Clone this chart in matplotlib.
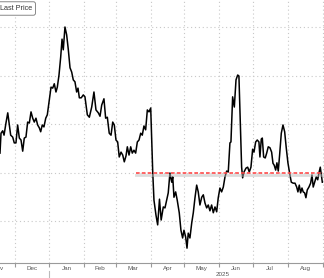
import pandas as pd
import matplotlib
matplotlib.use('Agg')
import matplotlib.pyplot as plt
import matplotlib.transforms as mtransforms

# daily closes (days counted from 2024-11-18)
start = pd.Timestamp('2024-11-18')
days = [0.0, 0.9, 2.4, 3.6, 5.3, 6.9, 8.3, 9.5, 11.3, 12.7, 14.2, 15.7, 17.2, 18.7, 20.2, 21.6, 23.1, 24.6, 26.1, 27.6,
        29.1, 30.5, 32.0, 33.5, 35.0, 36.2, 37.6, 39.1, 40.7, 42.1, 43.9, 45.4, 46.9, 48.3, 49.8, 51.0, 52.5, 54.0, 55.2, 56.3,
        57.8, 59.3, 60.8, 62.3, 63.8, 65.2, 66.7, 68.2, 69.4, 70.6, 72.3,
        74.1, 75.6, 77.7, 79.5, 81.6, 83.6, 85.4, 87.5, 89.0, 90.5, 92.5, 94.0, 95.5, 97.2, 98.8, 100.3, 101.7, 103.2, 104.7, 106.1,
        107.7, 109.2, 110.6, 112.1, 113.3, 114.8, 116.3, 117.7, 119.2, 120.7, 122.2, 123.7, 125.2, 126.6, 128.1, 129.6, 131.1, 132.6,
        134.1, 135.9, 137.0, 138.8, 140.3, 141.9, 143.4,
        145.3, 146.8, 148.3, 149.7, 151.2, 152.8, 153.7, 154.8, 156.3, 157.7, 159.5, 161.0, 162.5, 163.7, 165.2, 166.4, 167.5, 169.0,
        170.6, 172.0, 173.5, 175.0, 176.4, 177.9, 179.5, 180.9, 182.4, 183.9, 185.3, 186.8, 188.3, 189.8, 191.3, 192.8, 194.2, 195.7,
        197.2, 198.7, 200.2, 201.7, 203.1, 204.6, 205.5, 207.0, 208.5, 210.0, 211.5, 212.6,
        215.0, 215.9, 217.1, 218.9, 220.4, 221.8, 223.3, 224.8, 226.0, 227.5, 228.9, 230.4, 231.3, 232.5, 233.4, 234.6, 236.0, 237.3,
        238.7, 240.2, 241.7, 242.9, 244.0, 245.3, 246.4, 247.6, 248.8, 250.3, 251.8, 253.3, 254.7, 256.2, 257.7, 259.2, 260.9, 262.5,
        264.0, 265.1, 266.3, 267.5, 268.7, 269.8, 271.1, 272.2, 273.4, 274.9, 276.4, 277.6, 278.7, 280.0, 281.4, 282.7, 283.8, 285.0,
        285.9, 286.8]
price = [24.0, 28.1, 28.6, 27.7, 30.2, 32.3, 29.8, 27.7, 27.3, 26.1, 26.1, 29.8, 27.1, 26.7, 24.4, 27.1, 27.3, 30.4, 30.2, 32.5,
         31.2, 30.4, 31.2, 29.8, 29.2, 28.4, 29.8, 29.4, 31.2, 31.9, 35.0, 37.6, 37.4, 38.3, 36.6, 37.6, 40.1, 43.8, 47.5, 45.3,
         50.0, 48.4, 45.3, 41.6, 40.7, 39.1, 38.7, 36.6, 37.4, 35.4, 35.4,
         36.0, 35.6, 31.9, 31.4, 33.5, 36.6, 32.9, 32.3, 31.6, 33.9, 35.2, 31.2, 31.4, 28.1, 27.7, 30.4, 29.8, 26.7, 26.3, 23.2,
         24.2, 23.6, 22.2, 23.4, 25.3, 23.6, 25.3, 24.0, 24.6, 24.0, 26.3, 26.7, 28.1, 27.7, 29.6, 28.8, 32.9, 32.5,
         33.3, 20.1, 14.3, 11.2, 9.2, 14.5, 10.2,
         12.9, 12.7, 14.3, 15.8, 19.9, 18.0, 19.1, 14.9, 16.0, 14.3, 11.7, 8.1, 6.5, 8.1, 6.7, 4.4, 7.5, 6.5,
         9.6, 11.7, 14.8, 17.4, 16.0, 13.3, 14.9, 15.4, 13.7, 12.7, 13.3, 12.1, 13.3, 11.7, 12.9, 11.9, 14.8, 16.8,
         16.0, 17.0, 19.1, 20.3, 20.1, 26.1, 26.3, 35.6, 33.5, 39.1, 40.1, 39.9,
         21.1, 18.9, 20.1, 20.9, 21.1, 20.1, 21.1, 24.8, 24.2, 26.3, 26.7, 26.3, 23.2, 26.9, 27.1, 23.2, 23.0, 24.0,
         25.3, 25.1, 24.2, 21.9, 21.5, 20.5, 22.0, 20.3, 23.6, 28.1, 29.8, 28.4, 25.1, 22.0, 19.9, 18.0, 17.8, 17.8,
         17.0, 16.0, 17.4, 15.8, 16.8, 16.0, 15.8, 14.8, 16.4, 17.0, 17.8, 19.5, 17.0, 18.0, 19.1, 18.5, 19.9, 21.1,
         19.5, 18.0]
dates = start + pd.to_timedelta(days, unit='D')

# red reference level
ref_level = 20.0
ref_from = pd.Timestamp('2025-03-19')
ref_to = pd.Timestamp('2025-09-01')

months = pd.date_range('2024-11-01', '2025-09-01', freq='MS')
month_labels = ['Nov', 'Dec', 'Jan', 'Feb', 'Mar', 'Apr', 'May', 'Jun', 'Jul', 'Aug']
grid_levels = [10, 20, 30, 40, 50]

plt.rcParams['font.family'] = ['Liberation Sans', 'DejaVu Sans']

fig = plt.figure(figsize=(3.24, 2.78), dpi=100)
ax = fig.add_axes([0, 15 / 278, 1, 263 / 278])

for s in ['top', 'left', 'right']:
    ax.spines[s].set_visible(False)
ax.spines['bottom'].set_color('#9a9a9a')
ax.spines['bottom'].set_linewidth(0.8)

ax.set_yticks(grid_levels)
ax.tick_params(axis='y', left=False, labelleft=False)
ax.set_xticks(months)
ax.tick_params(axis='x', length=3, width=0.8, color='#9a9a9a', labelbottom=False)
ax.grid(True, color='#c8c8c8', linestyle=(0, (1, 2.5)), linewidth=0.8)

ax.plot(dates, price, color='black', lw=1.1, zorder=3)

ax.plot([ref_from, ref_to], [ref_level - 0.45] * 2, color='#bbbbbb', alpha=0.5, lw=2, zorder=3.5)
ax.plot([ref_from, ref_to], [ref_level] * 2, color='#ff4b4b', lw=1.2, dashes=(2.2, 1.3), zorder=4)

# limits after the ticks, otherwise set_xticks widens the view
ax.set_xlim(start, start + pd.Timedelta(days=288.3))
ax.set_ylim(1.34, 55.57)

trans = mtransforms.blended_transform_factory(ax.transData, ax.transAxes)
for m0, m1, lab in zip(months[:-1], months[1:], month_labels):
    mid = m0 + (m1 - m0) / 2
    ax.text(mid, -5.5 / 263, lab, transform=trans, ha='center', va='center',
            fontsize=4.5, color='#555555', clip_on=False)

ax.text(pd.Timestamp('2025-06-04'), -11.5 / 263, '2025', transform=trans, ha='center', va='center',
        fontsize=4.5, color='#555555', clip_on=False)
ax.plot([months[2], months[2]], [-8 / 263, -15 / 263], transform=trans, color='#bbbbbb', lw=0.8, clip_on=False)

ax.text(0.0, 1 - 8.5 / 263, 'Last Price', transform=ax.transAxes, ha='left', va='center',
        fontsize=5.2, color='#333333',
        bbox=dict(boxstyle='round,pad=0.45,rounding_size=0.3', fc='white', ec='#888888', lw=0.7))

fig.savefig('out.png', dpi=100)
